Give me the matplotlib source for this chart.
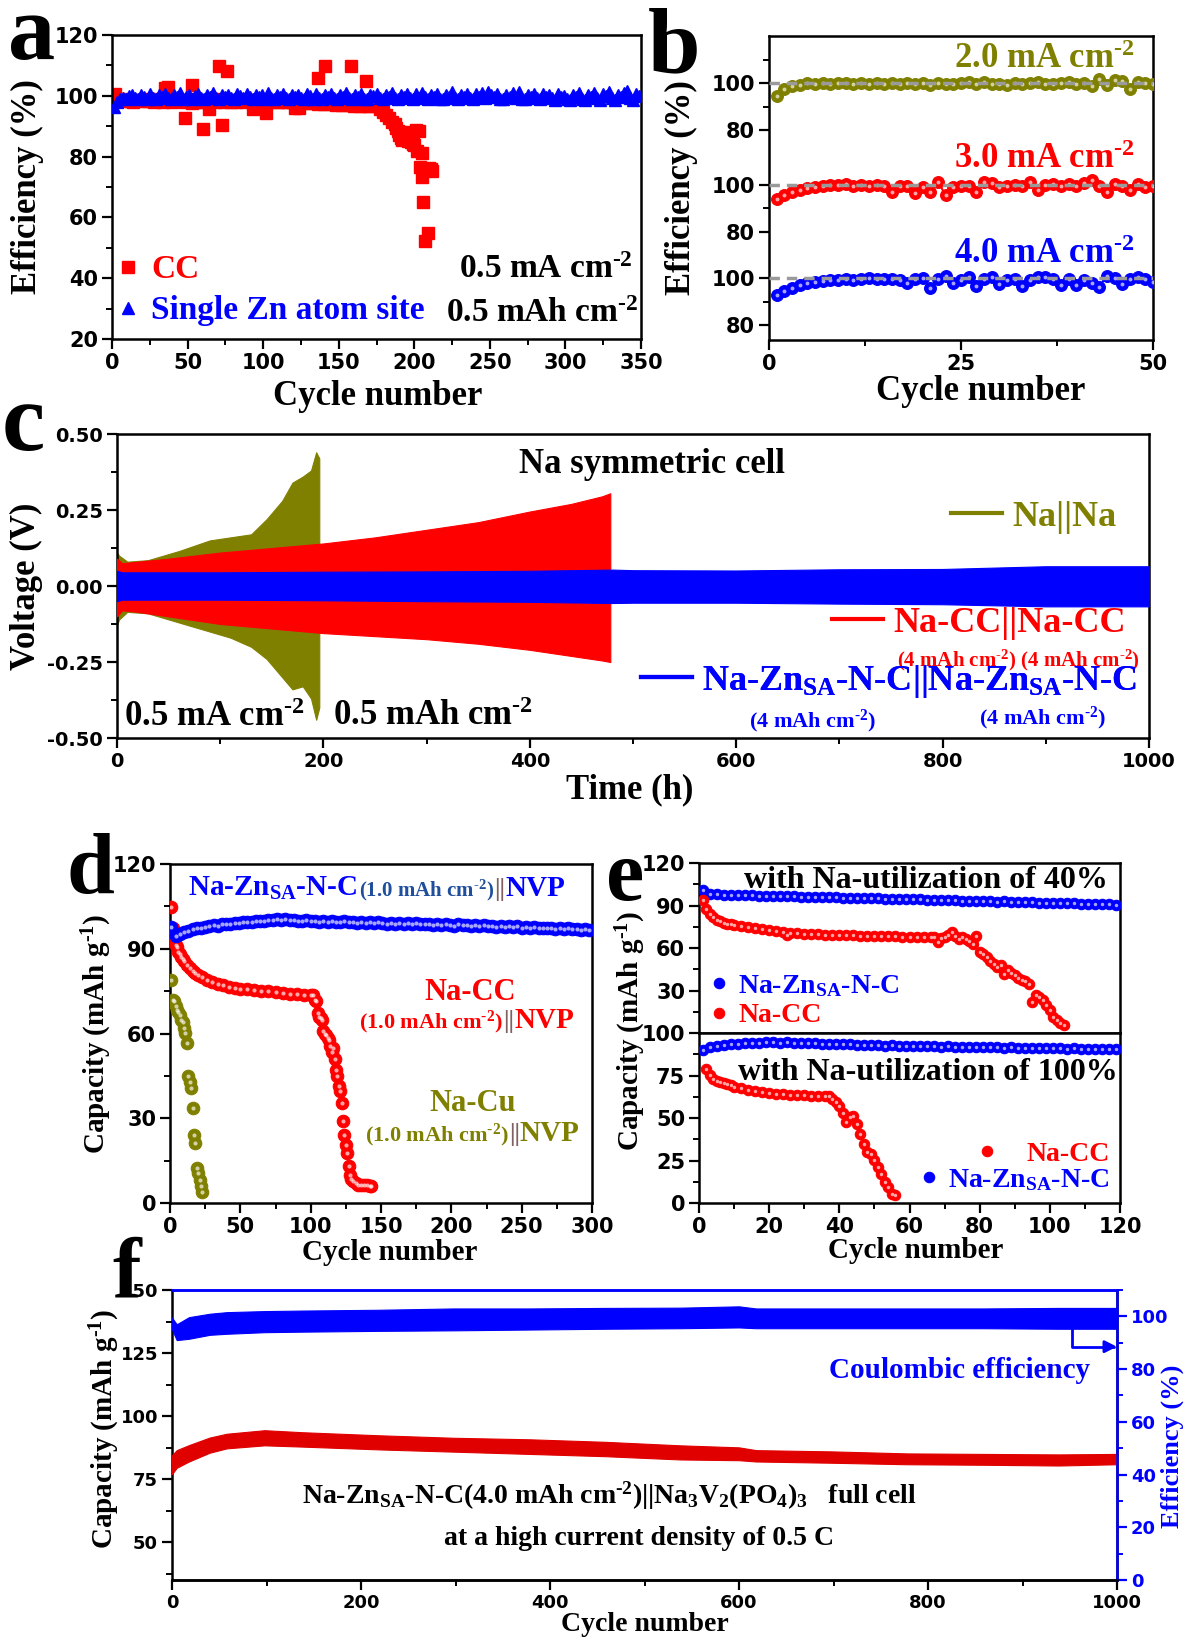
import matplotlib
matplotlib.use('Agg')
import numpy as np
import matplotlib.pyplot as plt
from matplotlib.lines import Line2D

plt.rcParams['font.family'] = 'DejaVu Sans'
plt.rcParams['font.weight'] = 'bold'
plt.rcParams['mathtext.fontset'] = 'custom'
plt.rcParams['mathtext.rm'] = 'Liberation Serif:bold'
plt.rcParams['mathtext.it'] = 'Liberation Serif:bold'
plt.rcParams['mathtext.bf'] = 'Liberation Serif:bold'
plt.rcParams['axes.linewidth'] = 1.8

SERIF = 'Liberation Serif'
OLIVE, RED, BLUE = '#808000', '#FF0000', '#0000FF'

# ---------------- data: panel a ----------------
a_zn_cycle = list(range(1, 350, 2))
a_zn_eff = [96.4, 97.9, 98.8, 99.3, 99.0, 99.8, 100.2, 99.4, 98.9, 100.4,
            99.6, 99.1, 100.6, 99.3, 98.8, 100.1, 99.7, 100.5, 99.2, 98.9,
            100.3, 99.6, 100.8, 99.1, 99.5, 100.2, 98.8, 99.9, 100.6, 99.3,
            99.0, 100.4, 99.7, 100.9, 99.2, 98.9, 100.3, 99.6, 100.1, 99.4,
            98.9, 100.5, 99.8, 99.2, 100.7, 99.5, 98.9, 100.2, 99.6, 100.4,
            99.1, 101.0, 99.4, 98.9, 100.3, 99.7, 100.6, 99.2, 99.0, 100.4,
            99.6, 100.1, 99.3, 98.8, 100.5, 99.8, 99.1, 100.7, 99.4, 98.9,
            100.2, 99.7, 100.6, 99.2, 98.9, 100.4, 99.5, 100.8, 99.3, 99.0,
            100.3, 99.6, 100.5, 99.1, 98.9, 100.2, 99.8, 100.6, 99.4, 99.0,
            100.4, 99.5, 100.9, 99.3, 98.8, 100.1, 99.7, 100.5, 99.2, 98.9,
            100.6, 99.4, 101.0, 99.6, 98.9, 100.3, 99.5, 100.7, 99.1, 99.0,
            100.4, 99.7, 101.3, 99.4, 98.8, 100.2, 99.6, 100.6, 99.3, 98.9,
            100.5, 99.6, 100.8, 99.2, 101.4, 100.1, 99.5, 100.6, 99.0, 98.8,
            100.3, 99.7, 100.9, 99.4, 101.2, 99.1, 98.8, 100.4, 99.6, 100.7,
            99.2, 98.9, 100.5, 99.7, 100.2, 99.3, 98.7, 100.6, 99.5, 100.0,
            99.1, 98.6, 100.4, 99.6, 100.8, 99.0, 98.7, 100.3, 99.5, 100.9,
            99.2, 98.6, 100.5, 99.8, 101.1, 99.3, 98.7, 100.4, 99.6, 101.0,
            101.5, 99.2, 98.6, 100.6, 99.8]
a_cc_cycle = (list(range(2, 172, 2)) +
              [173, 175, 177, 179, 181, 183, 185, 187, 188, 189, 190, 191, 192, 193, 194,
               195, 196, 197, 198, 199, 200, 201, 202, 203, 204, 205, 205, 206, 207, 209, 210, 211, 212,
               35, 37, 48, 53, 53, 60, 64, 71, 73, 76, 79, 93, 95, 102, 121, 124, 136, 141, 158, 168])
a_cc_eff = ([100.5, 98.9, 98.6, 98.3, 98.8, 98.4, 98.1, 98.7, 98.5, 98.2,
             98.6, 98.3, 98.9, 98.1, 98.5, 98.2, 98.0, 98.7, 98.4, 98.1,
             98.8, 98.2, 98.5, 98.0, 98.6, 98.3, 98.9, 98.1, 98.4, 98.0,
             98.7, 98.2, 98.5, 98.1, 98.8, 98.3, 98.0, 98.6, 98.2, 98.4,
             98.1, 98.7, 98.3, 98.0, 98.5, 98.2, 98.6, 98.1, 98.4, 97.9,
             98.5, 98.2, 98.0, 98.4, 97.9, 98.3, 98.1, 97.8, 98.2, 97.9,
             98.1, 97.7, 98.0, 97.6, 97.9, 97.5, 97.8, 97.4, 97.7, 97.3,
             97.6, 97.2, 97.5, 97.1, 97.4, 97.0, 97.3, 96.9, 97.2, 96.8,
             97.0, 96.7, 96.9, 96.6, 96.8] +
            [97.5, 96.5, 95.8, 94.8, 93.6, 92.8, 91.5, 90.6, 89.5, 88.3, 87.2, 86.0, 85.4, 87.3, 88.0,
             86.0, 85.2, 87.6, 84.8, 84.2, 83.9, 88.8, 81.7, 88.5, 76.7, 81.3, 73.4, 65.2, 52.4, 54.8, 76.2, 75.8, 75.1,
             102.5, 103.0, 92.7, 103.4, 97.5, 89.0, 95.6, 109.8, 90.3, 108.2, 98.0, 95.6, 96.0, 94.3, 95.9, 96.0,
             106.0, 109.8, 109.8, 104.9])

# ---------------- data: panel b ----------------
b_cycle = list(range(1, 51))
b_eff_2mA = [94.6, 97.4, 98.9, 99.3, 100.0, 99.6, 100.2, 99.8, 100.3, 100.1,
             99.7, 100.2, 99.9, 100.1, 99.8, 100.3, 99.6, 100.0, 99.9, 100.2,
             99.5, 100.1, 99.8, 99.6, 100.0, 100.6, 99.7, 100.4, 99.6, 99.8,
             99.5, 100.1, 99.9, 100.3, 100.5, 99.6, 99.7, 100.2, 100.4, 99.8,
             100.1, 98.9, 102.0, 99.4, 101.5, 101.2, 97.6, 100.6, 100.1, 99.8]
b_eff_3mA = [93.9, 95.7, 97.1, 98.1, 98.6, 99.3, 99.8, 100.1, 99.9, 100.3,
             99.7, 100.2, 99.8, 100.1, 99.6, 96.9, 99.8, 99.4, 96.8, 99.1,
             97.2, 101.5, 95.6, 99.2, 99.6, 99.4, 97.1, 101.3, 101.0, 99.2,
             99.6, 100.1, 99.8, 101.2, 97.9, 99.9, 100.6, 99.4, 100.3, 99.7,
             100.8, 102.2, 99.8, 97.2, 100.4, 99.6, 97.8, 100.3, 99.2, 99.8]
b_eff_4mA = [92.9, 94.7, 96.1, 97.1, 97.9, 98.6, 99.1, 99.3, 99.4, 99.6,
             99.5, 99.8, 100.2, 99.7, 99.6, 99.9, 99.4, 98.1, 99.8, 100.3,
             96.1, 99.6, 101.0, 97.9, 99.5, 100.4, 96.7, 99.9, 100.4, 97.4,
             99.2, 99.6, 96.8, 99.3, 100.8, 100.6, 99.7, 97.3, 99.6, 97.0,
             99.4, 98.2, 96.5, 101.1, 100.2, 97.6, 99.7, 100.8, 99.9, 98.6]
b_offsets = [83.6, 40.0, 0.0]   # vertical stacking of the three curves

# ---------------- data: panel c (voltage envelopes) ----------------
c_nana_t = [0, 2, 10, 30, 60, 90, 110, 130, 145, 160, 170, 180, 188, 193, 196]
c_nana_hi = [0.11, 0.10, 0.08, 0.085, 0.115, 0.15, 0.16, 0.17, 0.22, 0.28, 0.34, 0.36, 0.38, 0.44, 0.42]
c_nana_lo = [-0.13, -0.11, -0.085, -0.09, -0.12, -0.15, -0.17, -0.20, -0.24, -0.30, -0.34, -0.33, -0.37, -0.44, -0.40]
c_cc_t = [0, 5, 20, 50, 100, 150, 200, 250, 300, 350, 400, 440, 470, 478]
c_cc_hi = [0.09, 0.075, 0.08, 0.09, 0.11, 0.125, 0.14, 0.16, 0.185, 0.21, 0.245, 0.27, 0.295, 0.305]
c_cc_lo = [-0.10, -0.08, -0.085, -0.10, -0.125, -0.14, -0.155, -0.165, -0.175, -0.19, -0.21, -0.23, -0.245, -0.25]
c_zn_t = [0, 5, 100, 200, 300, 400, 480, 500, 600, 700, 800, 900, 1000]
c_zn_hi = [0.05, 0.045, 0.045, 0.047, 0.048, 0.05, 0.054, 0.052, 0.051, 0.055, 0.056, 0.065, 0.065]
c_zn_lo = [-0.05, -0.045, -0.045, -0.047, -0.05, -0.052, -0.056, -0.055, -0.055, -0.058, -0.06, -0.067, -0.067]

# ---------------- data: panel d ----------------
d_zn_cycle = list(range(1, 301, 3))
d_zn_cap = [97.8, 94.4, 95.3, 95.9, 96.4, 96.9, 97.2, 97.5, 97.8, 98.0,
            98.3, 98.2, 98.6, 98.8, 98.9, 99.2, 99.0, 99.4, 99.6, 99.5,
            99.8, 99.7, 100.0, 100.2, 100.1, 100.5, 100.2, 100.4, 100.1, 100.3,
            100.0, 99.8, 100.1, 99.7, 99.9, 99.6, 99.8, 99.5, 99.9, 99.6,
            99.4, 99.7, 99.3, 99.6, 99.2, 99.5, 99.1, 99.4, 99.0, 99.3,
            99.1, 98.8, 99.2, 98.9, 99.1, 98.7, 99.0, 98.6, 99.1, 98.8,
            98.7, 98.9, 98.5, 98.8, 98.4, 98.7, 98.5, 98.2, 98.6, 98.3,
            98.5, 98.1, 98.4, 98.0, 98.3, 97.9, 98.2, 97.8, 98.0, 97.7,
            97.9, 97.6, 97.9, 97.5, 97.7, 97.4, 97.7, 97.3, 97.5, 97.2,
            97.4, 97.1, 97.3, 97.0, 97.2, 96.9, 97.0, 96.8, 96.9, 96.6]
d_cc_cycle = [1, 2, 3, 4, 5, 6, 7, 8, 9, 10, 12, 14, 16, 18, 20, 23, 26, 30, 34, 38, 42, 46, 50,
              55, 60, 65, 70, 75, 80, 85, 90, 95, 100,
              102, 103, 104, 105, 106, 107, 108, 109, 110, 111, 112, 113, 114, 115, 116, 117, 118, 119,
              120, 121, 122, 123, 124, 125, 126, 127, 128, 129, 130, 132, 134, 136, 138, 140, 142, 143]
d_cc_cap = [104.9, 97.5, 93.0, 91.5, 90.5, 89.0, 88.0, 87.0, 86.3, 85.7, 84.4, 83.3, 82.3, 81.5, 80.8,
            79.9, 79.0, 78.3, 77.6, 77.1, 76.6, 76.2, 75.9,
            75.6, 75.3, 75.1, 74.9, 74.6, 74.4, 74.1, 73.9, 73.7, 73.5,
            73.8, 72.0, 71.5, 67.3, 66.0, 65.5, 64.9, 60.8, 59.9, 59.6, 58.5, 57.8, 55.5, 53.5, 55.0, 50.8,
            47.2, 44.8, 41.3, 39.5, 35.4, 28.9, 24.2, 20.6, 17.7, 13.0, 10.0, 8.5, 7.7,
            7.0, 6.5, 6.3, 6.5, 6.2, 6.0, 5.9]
d_cu_cycle = list(range(1, 24))
d_cu_cap = [79.0, 72.0, 71.4, 69.6, 68.4, 67.5, 66.7, 64.9, 64.0, 62.0, 60.2, 56.6, 44.8, 43.0,
            40.6, 33.5, 24.2, 21.2, 12.4, 10.6, 8.3, 5.9, 3.8]

# ---------------- data: panel e ----------------
e_zn_cycle = list(range(1, 121, 2))
e40_zn_cap = [101.2, 97.9, 97.8, 97.6, 97.5, 97.3, 97.4, 97.1, 97.0, 96.9,
              96.8, 96.6, 96.7, 96.4, 96.3, 96.2, 96.0, 96.1, 95.8, 95.7,
              95.6, 95.4, 95.5, 95.2, 95.1, 95.0, 94.8, 94.9, 94.6, 94.5,
              94.3, 94.4, 94.1, 94.0, 93.8, 93.9, 93.6, 93.5, 93.3, 93.4,
              93.1, 93.0, 92.8, 92.9, 92.6, 92.5, 92.3, 92.4, 92.1, 92.0,
              91.8, 91.9, 91.6, 91.5, 91.3, 91.4, 91.1, 91.0, 90.8, 90.6]
e40_cc_cycle = ([1, 2, 3, 4, 5, 6, 7, 8, 9, 10, 12, 14, 16, 18, 20, 22, 24, 25, 26] +
                list(range(28, 67, 2)) + list(range(67, 105)))
e40_cc_cap = [93.6, 87.8, 84.2, 81.9, 80.0, 78.8, 78.0, 77.2, 76.6, 76.0,
              75.2, 74.5, 73.9, 73.3, 72.6, 72.0, 71.5, 68.9, 70.6,
              70.4, 70.1, 69.9, 69.7, 69.5, 69.4, 69.2, 69.0, 68.9, 68.8,
              68.7, 68.5, 68.4, 68.3, 68.2, 68.0, 67.9, 67.8, 67.8, 67.7,
              67.5, 64.2, 66.8, 67.8, 69.5, 71.3, 68.5, 66.6, 67.5, 66.6,
              65.0, 63.0, 68.2, 57.2, 55.5, 53.6, 51.0, 48.9, 46.6, 47.8,
              41.9, 44.2, 42.5, 40.7, 39.0, 37.6, 36.5, 34.8, 21.9, 26.6,
              25.4, 23.0, 19.5, 16.0, 11.3, 8.9, 7.0, 5.4]
e100_zn_cap = [89.8, 91.5, 92.3, 92.9, 93.3, 93.6, 93.9, 94.1, 94.3, 94.5,
               94.6, 94.4, 94.5, 94.3, 94.2, 94.0, 93.9, 93.7, 93.6, 93.5,
               93.3, 93.4, 93.1, 93.0, 92.9, 92.8, 92.6, 92.7, 92.5, 92.4,
               92.3, 92.4, 92.2, 92.1, 92.0, 92.1, 91.9, 91.8, 91.9, 91.7,
               91.6, 91.7, 91.5, 91.4, 91.5, 91.3, 91.2, 91.3, 91.1, 91.0,
               91.1, 90.9, 90.8, 90.9, 90.7, 90.6, 90.7, 90.5, 90.4, 90.3]
e100_cc_cycle = [2, 3, 4, 5, 6, 7, 8, 9, 10] + list(range(12, 37, 2)) + list(range(37, 57))
e100_cc_cap = [79.0, 75.1, 73.1, 72.0, 71.2, 70.6, 70.2, 69.3, 68.2,
               67.4, 66.6, 66.0, 65.3, 64.7, 64.3, 64.0, 63.8, 63.6, 63.4, 63.2, 63.0, 62.9,
               62.7, 61.0, 59.4, 56.9, 52.9, 47.6, 50.6, 51.0, 46.7, 40.8, 34.9, 30.0, 29.0,
               25.1, 21.2, 17.3, 12.4, 9.4, 5.5, 4.5]

# ---------------- data: panel f (band envelopes) ----------------
f_cycle = [0, 5, 18, 40, 58, 98, 138, 218, 298, 378, 458, 538, 600, 618, 698, 778, 858, 938, 1000]
f_cap_hi = [84.5, 86.5, 88.5, 91.5, 93.0, 94.4, 93.6, 92.4, 91.4, 90.8, 89.8, 88.4, 87.6, 86.5, 86.0, 85.2, 85.0, 84.8, 85.0]
f_cap_lo = [77.0, 79.5, 82.0, 85.5, 87.2, 88.4, 87.9, 86.8, 85.9, 85.0, 84.1, 82.8, 82.5, 82.0, 81.5, 80.9, 80.7, 80.4, 80.9]
f_ce_hi = [99.5, 97.0, 99.7, 101.0, 101.6, 102.0, 102.2, 102.5, 103.0, 103.0, 103.2, 103.3, 103.8, 103.0, 103.0, 103.0, 103.0, 103.2, 103.2]
f_ce_lo = [95.0, 91.0, 91.5, 93.0, 93.4, 94.0, 94.2, 94.5, 94.7, 95.0, 95.3, 95.5, 95.8, 95.5, 95.5, 95.5, 95.5, 95.3, 95.3]

# =====================================================================
W, H = 1185, 1642
fig = plt.figure(figsize=(W / 100, H / 100), dpi=100)
renderer = fig.canvas.get_renderer()

SUP2 = r'$^{\text{-2}}$'
SUP1 = r'$^{\text{-1}}$'


def add_ax(l, t, r, b):
    return fig.add_axes([l / W, 1 - b / H, (r - l) / W, (b - t) / H])


def fmt(v, dec):
    return ('%.' + str(dec) + 'f') % v


def ticks(ax, xmaj, xmin, ymaj, ymin, size=15, xdec=0, ydec=0, ylabels=None, color='black'):
    ax.set_xticks(xmaj)
    ax.set_xticks(xmin, minor=True)
    ax.set_yticks(ymaj)
    ax.set_yticks(ymin, minor=True)
    ax.set_xticklabels([fmt(v, xdec) for v in xmaj], fontsize=size, fontweight='bold', fontfamily='DejaVu Sans')
    ax.set_yticklabels(ylabels if ylabels is not None else [fmt(v, ydec) for v in ymaj],
                       fontsize=size, fontweight='bold', fontfamily='DejaVu Sans', color=color)
    ax.tick_params(which='major', direction='out', length=7, width=1.6, top=False, right=False, pad=3)
    ax.tick_params(which='minor', direction='out', length=4, width=1.4, top=False, right=False)


def serif(size, color='black'):
    return dict(fontsize=size, fontfamily=SERIF, fontweight='bold', color=color)


def xlab(ax, s, x, y, size):
    ax.set_xlabel(s, **serif(size))
    ax.xaxis.label.set_va('center')
    ax.xaxis.set_label_coords(x, y)


def ylab(ax, s, x, y, size, color='black'):
    ax.set_ylabel(s, **serif(size, color))
    ax.yaxis.label.set_va('center')
    ax.yaxis.set_label_coords(x, y)


def spheres(ax, x, y, color, ms, z=3, label=None, line=False):
    ln, = ax.plot(x, y, 'o', ms=ms, color=color, mec=color, mew=0.8,
                  ls='-' if line else 'none', lw=1.5, zorder=z, label=label)
    ax.plot(x, y, 'o', ms=ms * 0.33, color='white', mec='none', alpha=0.65, ls='none', zorder=z + 0.1)
    return ln


def chain(ax, x, y, parts, ha='left'):
    """Draw text pieces side by side on a common baseline (data coords)."""
    px, py = ax.transData.transform((x, y))
    texts, cur = [], px
    inv = ax.transData.inverted()
    for s, c, fs in parts:
        t = ax.text(*inv.transform((cur, py)), s, va='baseline', ha='left', **serif(fs, c))
        bb = t.get_window_extent(renderer)
        cur = bb.x1
        texts.append(t)
    if ha != 'left':
        shift = (cur - px) / 2 if ha == 'center' else (cur - px)
        for t in texts:
            tx, ty = ax.transData.transform(t.get_position())
            t.set_position(inv.transform((tx - shift, ty)))
    return texts


def letter(s, x, y, size):
    fig.text(x / W, 1 - y / H, s, fontsize=size, fontfamily=SERIF, fontweight='bold',
             ha='left', va='baseline')


ZN = r'Na-Zn$_{\mathregular{SA}}$-N-C'

# ---------------- panel a ----------------
axA = add_ax(112, 35, 641, 339)
axA.plot(a_cc_cycle, a_cc_eff, 's', ms=8, color=RED, mec=RED, ls='none', zorder=2, label='CC')
axA.plot(a_zn_cycle, a_zn_eff, '^', ms=8.5, color=BLUE, mec=BLUE, ls='none', zorder=3, label='Single Zn atom site')
axA.set_xlim(0, 350)
axA.set_ylim(20, 120)
ticks(axA, range(0, 351, 50), range(25, 350, 50), range(20, 121, 20), range(30, 120, 20), size=15)
xlab(axA, 'Cycle number', 0.503, -0.19, 25)
ylab(axA, 'Efficiency (%)', -0.159, 0.5, 25)
legA = axA.legend(loc='lower left', bbox_to_anchor=(-0.005, 0.02), frameon=False, borderaxespad=0,
                  borderpad=0.2, handlelength=0.7, handletextpad=0.35, labelspacing=0.3,
                  prop=dict(family=SERIF, weight='bold', size=24), labelcolor=[RED, BLUE])
axA.text(0.985, 0.2, '0.5 mA cm' + SUP2, transform=axA.transAxes, ha='right', va='baseline', **serif(24))
axA.text(0.995, 0.055, '0.5 mAh cm' + SUP2, transform=axA.transAxes, ha='right', va='baseline', **serif(24))
letter('a', 8, 59, 68)

# ---------------- panel b ----------------
axB = add_ax(769, 36, 1153, 340)
for vals, off, col in zip([b_eff_2mA, b_eff_3mA, b_eff_4mA], b_offsets, [OLIVE, RED, BLUE]):
    yv = np.array(vals) + off
    spheres(axB, b_cycle, yv, col, 8.5, z=3, line=True)
    axB.axhline(100 + off, color='#9a9a9a', ls=(0, (3, 2)), lw=2.5, zorder=4)
axB.set_xlim(0, 50)
axB.set_ylim(73.6, 203.9)
ticks(axB, [0, 25, 50], [12.5, 37.5], [80, 100, 120, 140, 163.6, 183.6], [90, 130, 173.6, 193.6],
      size=15, ylabels=['80', '100', '80', '100', '80', '100'])
xlab(axB, 'Cycle number', 0.55, -0.171, 25)
ylab(axB, 'Efficiency (%)', -0.229, 0.5, 25)
axB.text(47.6, 190.0, '2.0 mA cm' + SUP2, ha='right', va='baseline', **serif(25, OLIVE))
axB.text(47.6, 147.3, '3.0 mA cm' + SUP2, ha='right', va='baseline', **serif(25, RED))
axB.text(47.6, 106.6, '4.0 mA cm' + SUP2, ha='right', va='baseline', **serif(25, BLUE))
letter('b', 648, 72, 68)

# ---------------- panel c ----------------
axC = add_ax(117, 434, 1149, 738)
axC.fill_between(c_nana_t, c_nana_lo, c_nana_hi, color=OLIVE, lw=0.8, zorder=2)
axC.fill_between(c_cc_t, c_cc_lo, c_cc_hi, color=RED, lw=0.8, zorder=3)
axC.fill_between(c_zn_t, c_zn_lo, c_zn_hi, color=BLUE, lw=0.8, zorder=4)
axC.set_xlim(0, 1000)
axC.set_ylim(-0.5, 0.5)
ticks(axC, range(0, 1001, 200), range(100, 1000, 200), [-0.5, -0.25, 0, 0.25, 0.5],
      [-0.375, -0.125, 0.125, 0.375], size=14, ydec=2)
xlab(axC, 'Time (h)', 0.497, -0.171, 25)
ylab(axC, 'Voltage (V)', -0.088, 0.5, 25)
axC.text(0.518, 0.9, 'Na symmetric cell', transform=axC.transAxes, ha='center', va='center', **serif(25))
rows = [('Na||Na', OLIVE, 0.969, 0.727, 26),
        ('Na-CC||Na-CC', RED, 0.978, 0.378, 26),
        (ZN + '||' + ZN, BLUE, 0.989, 0.186, 26)]
for lab, col, xr, yr, fs in rows:
    lg = axC.legend(handles=[Line2D([], [], color=col, lw=3)], labels=[lab], loc='center right',
                    bbox_to_anchor=(xr, yr), frameon=False, borderaxespad=0, borderpad=0,
                    handlelength=1.4, handletextpad=0.3, labelcolor=col,
                    prop=dict(family=SERIF, weight='bold', size=fs))
    axC.add_artist(lg)
axC.text(0.991, 0.254, '(4 mAh cm' + SUP2 + ') (4 mAh cm' + SUP2 + ')', transform=axC.transAxes,
         ha='right', va='center', **serif(15, RED))
axC.text(0.674, 0.055, '(4 mAh cm' + SUP2 + ')', transform=axC.transAxes, ha='center', va='center', **serif(16, BLUE))
axC.text(0.897, 0.066, '(4 mAh cm' + SUP2 + ')', transform=axC.transAxes, ha='center', va='center', **serif(16, BLUE))
axC.text(0.007, 0.066, '0.5 mA cm' + SUP2, transform=axC.transAxes, ha='left', va='center', **serif(25))
axC.text(0.209, 0.07, '0.5 mAh cm' + SUP2, transform=axC.transAxes, ha='left', va='center', **serif(25))
letter('c', 2, 450, 70)

# ---------------- panel d ----------------
axD = add_ax(170, 864, 592, 1203)
axD.set_xlim(0, 300)
axD.set_ylim(0, 120)
spheres(axD, d_cu_cycle, d_cu_cap, OLIVE, 9, z=3)
spheres(axD, d_cc_cycle, d_cc_cap, RED, 9, z=3)
spheres(axD, d_zn_cycle, d_zn_cap, BLUE, 9, z=4)
ticks(axD, range(0, 301, 50), range(25, 300, 50), range(0, 121, 30), range(15, 120, 30), size=15)
xlab(axD, 'Cycle number', 0.52, -0.145, 21)
ylab(axD, 'Capacity (mAh g' + SUP1 + ')', -0.173, 0.5, 21)
chain(axD, 12.7, 108.6, [(ZN + ' ', BLUE, 21), ('(1.0 mAh cm' + SUP2 + ')', '#1F4E9C', 15),
                         ('||', '#806060', 18), ('NVP', BLUE, 21)])
axD.text(213.7, 72.0, 'Na-CC', ha='center', va='baseline', **serif(22, RED))
chain(axD, 211, 62.0, [('(1.0 mAh cm' + SUP2 + ')', RED, 16), ('||', '#806060', 18), ('NVP', RED, 21)], ha='center')
axD.text(215, 32.4, 'Na-Cu', ha='center', va='baseline', **serif(22, OLIVE))
chain(axD, 215, 21.8, [('(1.0 mAh cm' + SUP2 + ')', OLIVE, 16), ('||', '#806060', 18), ('NVP', OLIVE, 21)], ha='center')
letter('d', 66, 893, 62)

# ---------------- panel e ----------------
axE1 = add_ax(699, 863, 1120, 1033)
axE2 = add_ax(699, 1033, 1120, 1203)
axE1.set_xlim(0, 120)
axE1.set_ylim(0, 120)
axE2.set_xlim(0, 120)
axE2.set_ylim(0, 100)
h1 = spheres(axE1, e_zn_cycle, e40_zn_cap, BLUE, 7.5, label=ZN)
h2 = spheres(axE1, e40_cc_cycle, e40_cc_cap, RED, 7.5, label='Na-CC')
h3 = spheres(axE2, e_zn_cycle, e100_zn_cap, BLUE, 7.5, label=ZN)
h4 = spheres(axE2, e100_cc_cycle, e100_cc_cap, RED, 7.5, label='Na-CC')
ticks(axE1, [], [], [30, 60, 90, 120], [15, 45, 75, 105], size=15)
axE1.tick_params(axis='x', which='both', bottom=False, labelbottom=False)
ticks(axE2, range(0, 121, 20), range(10, 120, 20), [0, 25, 50, 75, 100], [12.5, 37.5, 62.5, 87.5], size=15)
xlab(axE2, 'Cycle number', 0.515, -0.28, 21)
fig.text(631 / W, 1 - 1031 / H, 'Capacity (mAh g' + SUP1 + ')', rotation=90, ha='center', va='center', **serif(21))
axE1.text(64.8, 107.8, 'with Na-utilization of 40%', ha='center', va='center', **serif(23))
axE2.text(65.3, 77.0, 'with Na-utilization of 100%', ha='center', va='center', **serif(23))
lp = dict(frameon=False, borderaxespad=0, borderpad=0, handlelength=0.8, labelspacing=0.15,
          prop=dict(family=SERIF, weight='bold', size=20))
legE1 = axE1.legend(handles=[h1, h2], loc='center left', bbox_to_anchor=(0.021, 0.19),
                    handletextpad=0.3, labelcolor=[BLUE, RED], **lp)
lgE2a = axE2.legend(handles=[h4], loc='center right', bbox_to_anchor=(0.975, 0.288),
                    handletextpad=1.0, labelcolor=RED, **lp)
axE2.add_artist(lgE2a)
axE2.legend(handles=[h3], loc='center right', bbox_to_anchor=(0.975, 0.135),
            handletextpad=0.3, labelcolor=BLUE, **lp)
letter('e', 606, 900, 62)

# ---------------- panel f ----------------
axF = add_ax(172, 1290, 1117, 1580)
axF2 = axF.twinx()
axF.fill_between(f_cycle, f_cap_lo, f_cap_hi, color='#E00000', lw=0.8, zorder=3)
axF2.fill_between(f_cycle, f_ce_lo, f_ce_hi, color=BLUE, lw=0.8, zorder=3)
axF.set_xlim(0, 1000)
axF.set_ylim(35, 150)
axF2.set_ylim(0, 110)
ticks(axF, range(0, 1001, 200), range(100, 1000, 200), [50, 75, 100, 125, 150], [37.5, 62.5, 87.5, 112.5, 137.5], size=13)
axF2.set_yticks([0, 20, 40, 60, 80, 100])
axF2.set_yticks([10, 30, 50, 70, 90, 110], minor=True)
axF2.set_yticklabels(['0', '20', '40', '60', '80', '100'], fontsize=13, fontweight='bold',
                     fontfamily='DejaVu Sans', color=BLUE)
axF2.tick_params(which='major', direction='out', length=7, width=1.6, colors=BLUE, pad=3)
axF2.tick_params(which='minor', direction='out', length=4, width=1.4, colors=BLUE)
axF2.spines['right'].set_color(BLUE)
axF2.spines['top'].set_color(BLUE)
axF.spines['top'].set_color(BLUE)
axF2.spines['left'].set_visible(False)
xlab(axF, 'Cycle number', 0.5, -0.155, 20)
ylab(axF, 'Capacity (mAh g' + SUP1 + ')', -0.071, 0.52, 21)
axF2.set_ylabel('Efficiency (%)', rotation=90, **serif(19, BLUE))
axF2.yaxis.label.set_va('center')
axF2.yaxis.set_label_coords(1.058, 0.46)
axF2.annotate('', xy=(1000, 88.5), xytext=(952, 95.5),
              arrowprops=dict(arrowstyle='-|>', color=BLUE, lw=2, mutation_scale=18,
                              shrinkA=0, shrinkB=0,
                              connectionstyle='angle,angleA=-90,angleB=180,rad=0'))
axF2.text(833, 79.5, 'Coulombic efficiency', ha='center', va='center', **serif(21, BLUE))
axF.text(463, 68.5, ZN + '(4.0 mAh cm' + SUP2 + r')||Na$_3$V$_2$(PO$_4$)$_3$   full cell',
         ha='center', va='center', **serif(20))
axF.text(494, 51.3, 'at a high current density of 0.5 C', ha='center', va='center', **serif(20))
letter('f', 112, 1297, 62)

fig.savefig('out.png', dpi=100)
